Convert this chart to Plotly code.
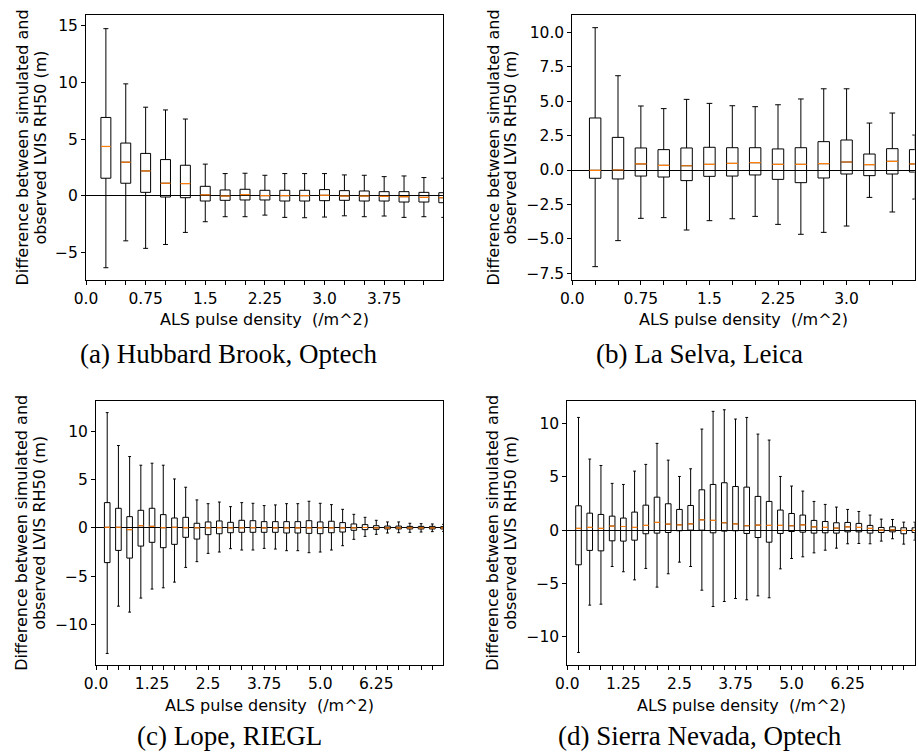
import plotly.graph_objects as go

W, H = 918, 752

# ---------------- data ----------------
a_pos = [0.25, 0.5, 0.75, 1.0, 1.25, 1.5, 1.75, 2.0, 2.25, 2.5, 2.75, 3.0, 3.25, 3.5, 3.75, 4.0, 4.25, 4.5]
a_hi = [14.7, 9.85, 7.8, 7.56, 6.76, 2.8, 1.97, 2.0, 1.82, 1.97, 1.97, 1.97, 1.85, 1.82, 1.7, 1.76, 1.62, 1.56]
a_q3 = [6.9, 4.65, 3.74, 3.2, 2.7, 0.85, 0.53, 0.59, 0.5, 0.5, 0.5, 0.56, 0.47, 0.44, 0.38, 0.38, 0.32, 0.29]
a_med = [4.35, 2.97, 2.2, 1.12, 1.09, 0.1, 0.0, 0.12, 0.03, 0.03, 0.03, 0.06, 0.0, 0.0, -0.03, -0.06, -0.12, -0.15]
a_q1 = [1.56, 1.12, 0.32, -0.09, -0.15, -0.44, -0.38, -0.35, -0.35, -0.44, -0.44, -0.41, -0.38, -0.44, -0.44, -0.53, -0.53, -0.59]
a_lo = [-6.3, -3.94, -4.6, -4.26, -3.2, -2.26, -1.82, -1.82, -1.68, -1.88, -1.91, -1.85, -1.74, -1.82, -1.76, -1.88, -1.82, -1.88]

b_pos = [0.25, 0.5, 0.75, 1.0, 1.25, 1.5, 1.75, 2.0, 2.25, 2.5, 2.75, 3.0, 3.25, 3.5, 3.75]
b_hi = [10.34, 6.85, 4.65, 4.46, 5.13, 4.84, 4.67, 4.6, 4.74, 5.16, 5.9, 5.9, 3.41, 4.14, 2.54]
b_q3 = [3.78, 2.37, 1.6, 1.48, 1.6, 1.65, 1.62, 1.62, 1.53, 1.62, 2.06, 2.18, 1.16, 1.55, 1.48]
b_med = [-0.02, 0.0, 0.44, 0.34, 0.31, 0.41, 0.48, 0.53, 0.41, 0.41, 0.46, 0.58, 0.39, 0.63, 0.44]
b_q1 = [-0.6, -0.65, -0.44, -0.51, -0.77, -0.46, -0.44, -0.36, -0.68, -0.92, -0.58, -0.29, -0.41, -0.29, -0.15]
b_lo = [-7.02, -5.13, -3.51, -3.46, -4.36, -3.68, -3.54, -3.37, -3.95, -4.67, -4.53, -4.07, -1.99, -3.05, -2.11]

cd_pos = [0.25, 0.5, 0.75, 1.0, 1.25, 1.5, 1.75, 2.0, 2.25, 2.5, 2.75, 3.0, 3.25, 3.5, 3.75, 4.0,
          4.25, 4.5, 4.75, 5.0, 5.25, 5.5, 5.75, 6.0, 6.25, 6.5, 6.75, 7.0, 7.25, 7.5, 7.75]
c_hi = [12.0, 8.58, 7.43, 6.53, 6.74, 6.53, 5.1, 4.24, 2.92, 2.53, 2.7, 2.22, 2.64, 2.57, 2.33, 2.4,
        2.53, 2.53, 2.78, 2.57, 2.43, 1.94, 1.42, 1.11, 0.8, 0.63, 0.63, 0.49, 0.45, 0.42, 0.38]
c_q3 = [2.64, 2.05, 1.18, 1.84, 2.05, 1.39, 1.04, 1.11, 0.49, 0.63, 0.73, 0.59, 0.8, 0.76, 0.66, 0.66,
        0.66, 0.66, 0.76, 0.63, 0.7, 0.56, 0.42, 0.35, 0.24, 0.2, 0.2, 0.17, 0.17, 0.17, 0.14]
c_med = [0.07, 0.07, -0.17, 0.24, 0.17, 0.03, 0.07, 0.03, 0.02, 0.02, 0.03, 0.02, 0.02, 0.03, 0.02, 0.02,
         0.02, 0.01, 0.02, 0.02, 0.02, 0.02, 0.02, 0.05, 0.02, 0.02, 0.01, 0.02, 0.02, 0.01, 0.02]
c_q1 = [-3.6, -2.33, -3.13, -1.88, -1.49, -2.05, -1.7, -0.97, -1.15, -0.69, -0.6, -0.49, -0.45, -0.45, -0.45, -0.45,
        -0.52, -0.52, -0.56, -0.59, -0.49, -0.42, -0.24, -0.17, -0.14, -0.1, -0.1, -0.1, -0.1, -0.1, -0.1]
c_lo = [-13.05, -8.13, -8.75, -7.29, -6.35, -6.22, -5.63, -4.1, -3.5, -2.64, -2.5, -2.15, -2.29, -2.29, -2.12, -2.19,
        -2.36, -2.36, -2.57, -2.5, -2.29, -1.84, -1.18, -0.87, -0.66, -0.52, -0.49, -0.45, -0.42, -0.38, -0.35]

d_hi = [10.56, 6.66, 6.06, 4.38, 4.28, 5.53, 6.16, 8.13, 6.56, 5.03, 5.75, 9.47, 11.13, 11.28, 10.41, 10.56,
        9.0, 8.44, 5.03, 4.13, 3.66, 2.69, 2.41, 2.16, 1.94, 1.75, 1.41, 1.03, 1.0, 0.75, 0.75]
d_q3 = [2.28, 1.59, 1.47, 1.31, 1.13, 1.69, 2.34, 3.09, 2.47, 1.94, 2.31, 3.78, 4.28, 4.44, 4.09, 4.03,
        3.16, 2.69, 1.88, 1.56, 1.41, 0.91, 0.81, 0.69, 0.72, 0.63, 0.44, 0.25, 0.31, 0.22, 0.22]
d_med = [0.16, 0.25, 0.16, 0.38, 0.34, 0.25, 0.44, 0.72, 0.56, 0.5, 0.59, 0.97, 0.91, 0.69, 0.59, 0.41,
         0.47, 0.44, 0.44, 0.41, 0.5, 0.31, 0.25, 0.19, 0.31, 0.25, 0.16, 0.0, 0.03, -0.03, -0.03]
d_q1 = [-3.25, -1.9, -1.94, -1.0, -1.03, -0.94, -0.34, -0.28, -0.22, -0.06, 0.0, 0.0, -0.25, -0.09, -0.06, -0.31,
        -0.69, -1.13, -0.31, -0.13, -0.19, -0.28, -0.25, -0.28, -0.16, -0.16, -0.28, -0.22, -0.16, -0.34, -0.22]
d_lo = [-11.47, -7.03, -6.94, -3.41, -3.9, -4.66, -3.59, -5.34, -4.09, -3.0, -3.41, -5.63, -7.16, -6.69, -6.41, -6.53,
        -6.16, -6.34, -3.63, -2.66, -2.5, -2.13, -1.88, -1.69, -1.28, -1.25, -1.28, -1.03, -0.81, -1.31, -0.94]

# tick labels
ab_xticks = [0.0, 0.25, 0.5, 0.75, 1.0, 1.25, 1.5, 1.75, 2.0, 2.25, 2.5, 2.75, 3.0, 3.25, 3.5, 3.75, 4.0, 4.25]
ab_xtext = ["0.0", "", "", "0.75", "", "", "1.5", "", "", "2.25", "", "", "3.0", "", "", "3.75", "", ""]
cd_xticks = [0.0, 0.25, 0.5, 0.75, 1.0, 1.25, 1.5, 1.75, 2.0, 2.25, 2.5, 2.75, 3.0, 3.25, 3.5, 3.75, 4.0,
             4.25, 4.5, 4.75, 5.0, 5.25, 5.5, 5.75, 6.0, 6.25, 6.5, 6.75, 7.0, 7.25, 7.5]
cd_xtext = ["0.0", "", "", "", "", "1.25", "", "", "", "", "2.5", "", "", "", "", "3.75", "", "", "", "",
            "5.0", "", "", "", "", "6.25", "", "", "", "", ""]
a_yticks = [-5, 0, 5, 10, 15]
a_ytext = ["\u22125", "0", "5", "10", "15"]
b_yticks = [-7.5, -5.0, -2.5, 0.0, 2.5, 5.0, 7.5, 10.0]
b_ytext = ["\u22127.5", "\u22125.0", "\u22122.5", "0.0", "2.5", "5.0", "7.5", "10.0"]
cd_yticks = [-10, -5, 0, 5, 10]
cd_ytext = ["\u221210", "\u22125", "0", "5", "10"]

captions = ["(a) Hubbard Brook, Optech", "(b) La Selva, Leica", "(c) Lope, RIEGL", "(d) Sierra Nevada, Optech"]
xlabel = "ALS pulse density  (/m^2)"
ylabel1 = "Difference between simulated and"
ylabel2 = "observed LVIS RH50 (m)"

BOXW = 0.125
SANS = "DejaVu Sans"
SERIF = "Liberation Serif"

# panel geometry in pixels: left, right, top, bottom
panels = [
    dict(pos=a_pos, lo=a_lo, q1=a_q1, med=a_med, q3=a_q3, hi=a_hi, px=(86, 443, 15, 280),
         xr=[0, 4.49], yr=[-7.38, 15.9], xt=ab_xticks, xtt=ab_xtext, yt=a_yticks, ytt=a_ytext,
         yl=(22, 40), cap=(228, 354)),
    dict(pos=b_pos, lo=b_lo, q1=b_q1, med=b_med, q3=b_q3, hi=b_hi, px=(572.3, 914.7, 15, 280),
         xr=[0, 3.745], yr=[-7.99, 11.26], xt=ab_xticks, xtt=ab_xtext, yt=b_yticks, ytt=b_ytext,
         yl=(493, 510), cap=(699, 354)),
    dict(pos=cd_pos, lo=c_lo, q1=c_q1, med=c_med, q3=c_q3, hi=c_hi, px=(96, 443.3, 400.7, 665),
         xr=[0, 7.745], yr=[-14.25, 13.24], xt=cd_xticks, xtt=cd_xtext, yt=cd_yticks, ytt=cd_ytext,
         yl=(22, 40), cap=(230, 736)),
    dict(pos=cd_pos, lo=d_lo, q1=d_q1, med=d_med, q3=d_q3, hi=d_hi, px=(567.3, 914.7, 400.7, 665),
         xr=[0, 7.745], yr=[-12.64, 12.13], xt=cd_xticks, xtt=cd_xtext, yt=cd_yticks, ytt=cd_ytext,
         yl=(493, 511), cap=(700, 736)),
]

fig = go.Figure()
annotations = []
layout = {}

for i, p in enumerate(panels):
    n = "" if i == 0 else str(i + 1)
    xa, ya = "x" + n, "y" + n
    fig.add_trace(go.Box(
        x=p["pos"], q1=p["q1"], median=p["med"], q3=p["q3"],
        lowerfence=p["lo"], upperfence=p["hi"],
        width=BOXW, whiskerwidth=0.5, boxpoints=False,
        line=dict(color="black", width=1), fillcolor="rgba(0,0,0,0)",
        xaxis=xa, yaxis=ya, showlegend=False, hoverinfo="skip",
    ))
    mx, my = [], []
    for xp, m in zip(p["pos"], p["med"]):
        mx += [xp - BOXW / 2, xp + BOXW / 2, None]
        my += [m, m, None]
    fig.add_trace(go.Scatter(x=mx, y=my, mode="lines", line=dict(color="#ff7f0e", width=1.2),
                             xaxis=xa, yaxis=ya, showlegend=False, hoverinfo="skip"))
    l, r, t, b = p["px"]
    axcommon = dict(showline=True, linecolor="black", linewidth=1, mirror=True, showgrid=False,
                    ticks="outside", ticklen=4, tickwidth=1, tickcolor="black", automargin=False,
                    tickfont=dict(family=SANS, size=15.5, color="black"))
    layout["xaxis" + n] = dict(domain=[l / W, r / W], anchor=ya, range=p["xr"], tickmode="array",
                               tickvals=p["xt"], ticktext=p["xtt"], zeroline=False, **axcommon)
    layout["yaxis" + n] = dict(domain=[1 - b / H, 1 - t / H], anchor=xa, range=p["yr"], tickmode="array",
                               tickvals=p["yt"], ticktext=p["ytt"], zeroline=True, zerolinecolor="black",
                               zerolinewidth=1, **axcommon)
    # y label lines
    yc = 1 - (t + b) / 2 / H
    for txt, xpx in zip([ylabel1, ylabel2], p["yl"]):
        annotations.append(dict(text=txt, x=xpx / W, y=yc, xref="paper", yref="paper", textangle=-90,
                                showarrow=False, xanchor="center", yanchor="middle",
                                font=dict(family=SANS, size=16, color="black")))
    # x label
    annotations.append(dict(text=xlabel, x=(l + r) / 2 / W, y=1 - (b + 40) / H, xref="paper", yref="paper",
                            showarrow=False, xanchor="center", yanchor="middle",
                            font=dict(family=SANS, size=16, color="black")))
    # caption
    annotations.append(dict(text=captions[i], x=p["cap"][0] / W, y=1 - p["cap"][1] / H, xref="paper",
                            yref="paper", showarrow=False, xanchor="center", yanchor="middle",
                            font=dict(family=SERIF, size=27, color="black")))

fig.update_layout(template="none", width=W, height=H, margin=dict(l=0, r=0, t=0, b=0, autoexpand=False),
                  plot_bgcolor="white", paper_bgcolor="white", annotations=annotations, **layout)
fig.write_html("out.html", config={"displayModeBar": False},
               post_script="document.body.style.margin='0';document.body.style.overflow='hidden';")
